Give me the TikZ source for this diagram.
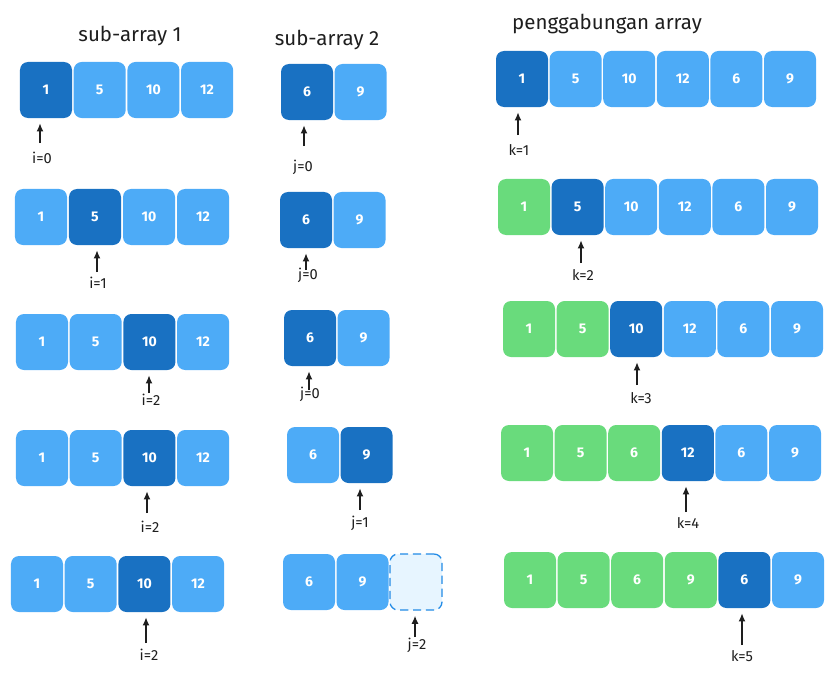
\documentclass[tikz,border=0pt]{standalone}
\usepackage{fontspec}
\setmainfont{Fira Sans}
\usetikzlibrary{arrows.meta}
\definecolor{dark}{HTML}{1971C2}
\definecolor{light}{HTML}{4DABF7}
\definecolor{done}{HTML}{69DB7C}
\definecolor{slot}{HTML}{E7F5FF}
\definecolor{slotline}{HTML}{228BE6}
\definecolor{ink}{HTML}{1E1E1E}

\begin{document}
\begin{tikzpicture}[
 x=0.03cm, y=-0.03cm,
 >={Latex[length=7pt,width=6pt]},
 cell/.style={rectangle,rounded corners=0.24cm,minimum width=1.56cm,minimum height=1.68cm,inner sep=0,text=white,font=\bfseries\large},
 title/.style={font=\fontsize{17.5}{20}\selectfont,text=ink},
 tag/.style={font=\fontsize{12.5}{14}\selectfont,text=ink,inner sep=1pt},
 ptr/.style={->,line width=1.3pt,draw=ink,shorten >=0.15cm}
]
\useasboundingbox (0,0) rectangle (835,675);
\node (t-sub1) [title] at (130,36) {sub-array 1};
\node (t-sub2) [title] at (327,40) {sub-array 2};
\node (t-merge) [title] at (607,24) {penggabungan array};
% sub-array 1
\foreach \v/\c [count=\n] in {1/dark,5/light,10/light,12/light}
 \node (a1-\n) [cell,fill=\c] at ({46+(\n-1)*53.7},90) {\v};
\foreach \v/\c [count=\n] in {1/light,5/dark,10/light,12/light}
 \node (a2-\n) [cell,fill=\c] at ({41+(\n-1)*54},217) {\v};
\foreach \v/\c [count=\n] in {1/light,5/light,10/dark,12/light}
 \node (a3-\n) [cell,fill=\c] at ({42+(\n-1)*53.7},342) {\v};
\foreach \v/\c [count=\n] in {1/light,5/light,10/dark,12/light}
 \node (a4-\n) [cell,fill=\c] at ({42+(\n-1)*53.7},458) {\v};
\foreach \v/\c [count=\n] in {1/light,5/light,10/dark,12/light}
 \node (a5-\n) [cell,fill=\c] at ({37+(\n-1)*53.7},584) {\v};
% sub-array 2
\foreach \v/\c [count=\n] in {6/dark,9/light}
 \node (b1-\n) [cell,fill=\c] at ({307+(\n-1)*53.5},92) {\v};
\foreach \v/\c [count=\n] in {6/dark,9/light}
 \node (b2-\n) [cell,fill=\c] at ({306+(\n-1)*53.5},220) {\v};
\foreach \v/\c [count=\n] in {6/dark,9/light}
 \node (b3-\n) [cell,fill=\c] at ({310+(\n-1)*53.5},338) {\v};
\foreach \v/\c [count=\n] in {6/light,9/dark}
 \node (b4-\n) [cell,fill=\c] at ({313+(\n-1)*53.5},455) {\v};
\foreach \v/\c [count=\n] in {6/light,9/light}
 \node (b5-\n) [cell,fill=\c] at ({309+(\n-1)*53.5},582) {\v};
\node (b5-3) [cell,fill=slot,draw=slotline,dash pattern=on 7pt off 4pt,line width=1.1pt] at (416,582) {};
% penggabungan
\foreach \v/\c [count=\n] in {1/dark,5/light,10/light,12/light,6/light,9/light}
 \node (c1-\n) [cell,fill=\c] at ({522+(\n-1)*53.6},79) {\v};
\foreach \v/\c [count=\n] in {1/done,5/dark,10/light,12/light,6/light,9/light}
 \node (c2-\n) [cell,fill=\c] at ({524+(\n-1)*53.6},207) {\v};
\foreach \v/\c [count=\n] in {1/done,5/done,10/dark,12/light,6/light,9/light}
 \node (c3-\n) [cell,fill=\c] at ({529+(\n-1)*53.6},329) {\v};
\foreach \v/\c [count=\n] in {1/done,5/done,6/done,12/dark,6/light,9/light}
 \node (c4-\n) [cell,fill=\c] at ({527+(\n-1)*53.6},453) {\v};
\foreach \v/\c [count=\n] in {1/done,5/done,6/done,9/done,6/dark,9/light}
 \node (c5-\n) [cell,fill=\c] at ({530+(\n-1)*53.6},580) {\v};
% pointers
\foreach \cl/\tx/\ty/\lx/\ly/\txt in {
 a1-1/40/143/42/158/i=0, a2-2/97/272/98/283/i=1, a3-3/149/393/151/400/i=2,
 a4-3/147/513/150/527/i=2, a5-3/146/643/149/655/i=2,
 b1-1/304/146/303/167/j=0, b2-1/306/270/308/275/j=0, b3-1/309/390/310/394/j=0,
 b4-2/360/510/360/523/j=1, b5-3/415/637/417/645/j=2,
 c1-1/518/135/519/150/k=1, c2-2/581/263/583/275/k=2, c3-3/637/385/641/398/k=3,
 c4-4/686/512/688/523/k=4, c5-5/742/645/742/656/k=5}
{
 \coordinate (p-\cl) at (\tx,\ty);
 \node (l-\cl) [tag] at (\lx,\ly) {\txt};
 \draw[ptr] (p-\cl) -- (p-\cl |- \cl.south);
}
\end{tikzpicture}
\end{document}
